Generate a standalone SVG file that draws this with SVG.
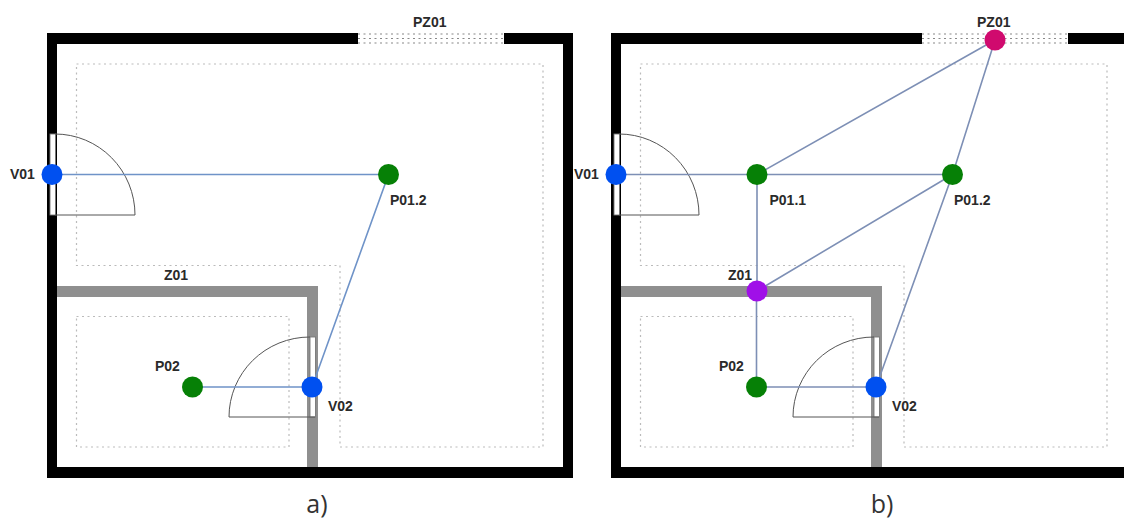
<svg xmlns="http://www.w3.org/2000/svg" width="1124" height="518" viewBox="0 0 1124 518">
<defs>
<style>
.lbl{font-family:"Liberation Sans",Arial,sans-serif;font-size:14px;font-weight:bold;fill:#2a2a2a}
.cap{font-family:"Open Sans","Liberation Sans",sans-serif;font-size:25px;fill:#333;text-anchor:middle}
.zone{fill:none;stroke:#bbb;stroke-width:1.2;stroke-dasharray:2 3.500}
.door{fill:none;stroke:#555;stroke-width:1}
.frame{fill:#fff;stroke:#777;stroke-width:.9}
.edge{fill:none;stroke:#6f93c8;stroke-width:1.6}
.edgeb{fill:none;stroke:#7d8fb5;stroke-width:1.6}
.v{fill:#0050f0}
.p{fill:#068006}
</style>
<g id="plan">
<rect x="358" y="33" width="146" height="11" fill="#fff"/>
<path class="zone" style="stroke:#888" d="M358 34H504M358 38.500H504M358 43H504"/>
<path d="M358 33H47V478H573V33H504V44H563V467H57V44H358Z" fill="#000"/>
<path d="M57 286H318V467H307V297H57Z" fill="#8f8f8f"/>
<path class="zone" d="M76.500 64H543V447H340V265.500H76.500Z"/>
<path class="zone" d="M76.500 316.500H289V447H76.500Z"/>
<rect class="frame" x="50" y="134" width="5.500" height="81"/>
<path class="door" d="M55 134A80 81 0 0 1 135 215H55"/>
<rect class="frame" x="310" y="337" width="5.500" height="80"/>
<path class="door" d="M310 337A81 80 0 0 0 229 417H315"/>
</g>
</defs>
<g id="plan-a"><use href="#plan"/></g>
<g id="plan-b"><use href="#plan" x="564"/></g>
<g id="connectors">
<path class="edge" d="M52 174.500H388.500L312 387H192.500"/>
<path class="edgeb" d="M616 174.500H952.500M757 174.500V291M756.500 291V387H876L952.500 174.500L995 40L757 174.500M757 291L952.500 174.500"/>
</g>
<g id="V01"><circle class="v" cx="52" cy="174.500" r="10.500"/><text class="lbl" x="10" y="179">V01</text></g>
<g id="P012"><circle class="p" cx="388.500" cy="174.500" r="10.500"/><text class="lbl" x="390" y="205">P01.2</text></g>
<g id="V02"><circle class="v" cx="312" cy="387" r="10.500"/><text class="lbl" x="328" y="410.500">V02</text></g>
<g id="P02"><circle class="p" cx="192.500" cy="387" r="10.500"/><text class="lbl" x="155" y="370.500">P02</text></g>
<g id="Z01"><text class="lbl" x="164" y="280">Z01</text></g>
<g id="PZ01"><text class="lbl" x="413" y="26.500">PZ01</text></g>
<g id="V01b"><circle class="v" cx="616" cy="174.500" r="10.500"/><text class="lbl" x="574" y="179">V01</text></g>
<g id="P011b"><circle class="p" cx="757" cy="174.500" r="10.500"/><text class="lbl" x="769.500" y="205">P01.1</text></g>
<g id="P012b"><circle class="p" cx="952.500" cy="174.500" r="10.500"/><text class="lbl" x="954" y="205">P01.2</text></g>
<g id="Z01b"><circle cx="757" cy="291" r="10.500" fill="#a010e8"/><text class="lbl" x="728" y="280">Z01</text></g>
<g id="P02b"><circle class="p" cx="756.500" cy="387" r="10.500"/><text class="lbl" x="719" y="370.500">P02</text></g>
<g id="V02b"><circle class="v" cx="876" cy="387" r="10.500"/><text class="lbl" x="892" y="410.500">V02</text></g>
<g id="PZ01b"><circle cx="995" cy="40" r="10.500" fill="#d00a6e"/><text class="lbl" x="977" y="26.500">PZ01</text></g>
<text class="cap" x="317" y="513">a)</text>
<text class="cap" x="882" y="513">b)</text>
</svg>
